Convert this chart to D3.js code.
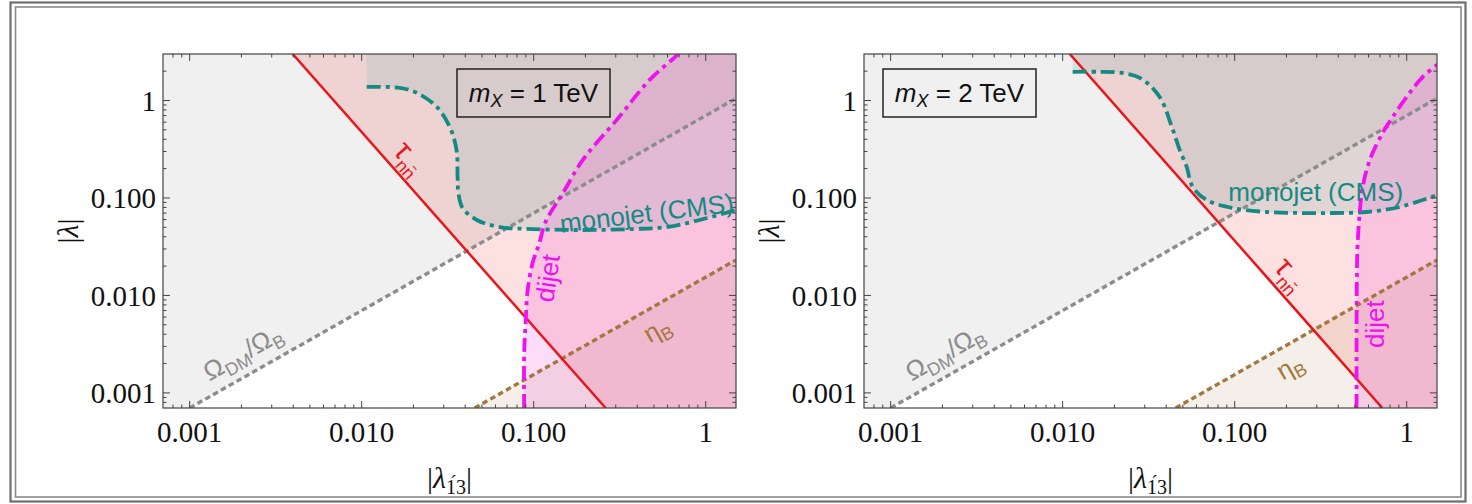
<!DOCTYPE html>
<html>
<head>
<meta charset="utf-8">
<script src="https://cdn.jsdelivr.net/npm/d3@7"></script>
<style>
body { margin: 0; background: #fff; }
</style>
</head>
<body>
<div id="chart"></div>
<script>
// axis ticks
var xTicks = [0.001, 0.01, 0.1, 1];
var xTickLabels = ["0.001", "0.010", "0.100", "1"];
var yTicks = [0.001, 0.01, 0.1, 1];
var yTickLabels = ["0.001", "0.010", "0.100", "1"];

// curves, [lambda'13, lambda]
var omegaLine = [[0.001, 0.0007], [1.5, 1.05]];
var etaLine = [[0.0454, 0.0007], [1.5, 0.0231]];
var tauLine1 = [[0.00397, 3], [0.262, 0.0007]];
var tauLine2 = [[0.011, 3], [0.722, 0.0007]];

var monojet1 = [[0.0107, 1.38], [0.0166, 1.35], [0.0209, 1.20], [0.0273, 0.86], [0.0325, 0.537],
    [0.0356, 0.311], [0.0361, 0.164], [0.0365, 0.1125], [0.0386, 0.0789], [0.0467, 0.0594],
    [0.0634, 0.0503], [0.0986, 0.048], [0.193, 0.0469], [0.377, 0.048], [0.593, 0.0503],
    [0.923, 0.0594], [1.5, 0.0753]];
var monojet2 = [[0.01143, 1.97], [0.0164, 1.97], [0.0214, 1.93], [0.0281, 1.71], [0.0366, 1.09],
    [0.0431, 0.537], [0.0479, 0.311], [0.0526, 0.208], [0.0570, 0.130], [0.0687, 0.0953],
    [0.0972, 0.0789], [0.1535, 0.0718], [0.239, 0.0701], [0.372, 0.0701], [0.585, 0.0718],
    [0.910, 0.0808], [1.5, 0.107]];

var dijet1 = [[0.088, 0.0007], [0.088, 0.0025], [0.0899, 0.0056], [0.0923, 0.0114], [0.0986, 0.0216],
    [0.108, 0.0347], [0.117, 0.0563], [0.148, 0.1125], [0.193, 0.246], [0.304, 0.633],
    [0.472, 1.63], [0.665, 2.81], [0.69, 3.0]];
var dijet2 = [[0.511, 0.0007], [0.512, 0.01], [0.517, 0.03], [0.533, 0.07], [0.555, 0.13],
    [0.61, 0.246], [0.725, 0.466], [0.83, 0.68], [1.04, 1.2], [1.24, 1.75], [1.5, 2.33]];

var masses = ["1", "2"];

var width = 573, height = 354;
var xMin = 0.0007, xMax = 1.5, yMin = 0.0007, yMax = 3;
var sans = "'Liberation Sans', Arial, sans-serif";
var serif = "'Liberation Serif', 'Times New Roman', serif";

var svg = d3.select("#chart").append("svg")
    .attr("width", 1472)
    .attr("height", 504);

// double frame round the figure
svg.append("rect").attr("x", 10.5).attr("y", 2.5).attr("width", 1455).attr("height", 499)
    .attr("fill", "none").attr("stroke", "#6e6e6e").attr("stroke-width", 2.2);
svg.append("rect").attr("x", 15.5).attr("y", 7).attr("width", 1445.5).attr("height", 490)
    .attr("fill", "none").attr("stroke", "#8a8a8a").attr("stroke-width", 1.6);

var x = d3.scaleLog().domain([xMin, xMax]).range([0, width]);
var y = d3.scaleLog().domain([yMin, yMax]).range([height, 0]);

var straight = d3.line().x(d => x(d[0])).y(d => y(d[1]));
var smooth = d3.line().x(d => x(d[0])).y(d => y(d[1])).curve(d3.curveCatmullRom.alpha(0.5));

function polyPath(pts) {
    return straight(pts) + "Z";
}

function drawPanel(left, opt) {
    var g = svg.append("g").attr("transform", "translate(" + left + ",54)");

    g.append("clipPath").attr("id", "clip" + opt.id)
        .append("rect").attr("width", width).attr("height", height);

    var regions = g.append("g").attr("clip-path", "url(#clip" + opt.id + ")");

    // Omega_DM / Omega_B region (above the line)
    regions.append("path")
        .attr("d", polyPath(omegaLine.concat([[xMax, yMax], [xMin, yMax], [xMin, yMin]])))
        .attr("fill", "#808080").attr("fill-opacity", 0.12);

    // tau_nn region (right of red line)
    regions.append("path")
        .attr("d", polyPath(opt.tau.concat([[xMax, yMin], [xMax, yMax]])))
        .attr("fill", "#f00000").attr("fill-opacity", 0.12);

    // eta_B region (below brown line)
    regions.append("path")
        .attr("d", polyPath(etaLine.concat([[xMax, yMin]])))
        .attr("fill", "#aa8250").attr("fill-opacity", 0.13);

    // monojet region
    var m = opt.mono;
    var monoD = "M" + x(m[0][0]) + "," + y(yMax) + smooth(m).replace(/^M/, "L") +
        "L" + x(xMax) + "," + y(yMax) + "Z";
    regions.append("path").attr("d", monoD)
        .attr("fill", "#a0bebe").attr("fill-opacity", 0.3);

    // dijet region
    var dj = opt.dijet;
    var last = dj[dj.length - 1];
    var dijetD = smooth(dj) + "L" + x(xMax) + "," + y(last[1]) +
        "L" + x(xMax) + "," + y(yMin) + "Z";
    regions.append("path").attr("d", dijetD)
        .attr("fill", "#f050d8").attr("fill-opacity", 0.2);

    // boundary lines
    regions.append("path").attr("d", straight(omegaLine))
        .attr("fill", "none").attr("stroke", "#8c8c8c").attr("stroke-width", 3.4)
        .attr("stroke-dasharray", "5.5,3.5");
    regions.append("path").attr("d", straight(etaLine))
        .attr("fill", "none").attr("stroke", "#a57640").attr("stroke-width", 3.4)
        .attr("stroke-dasharray", "5.5,3.5");
    regions.append("path").attr("d", straight(opt.tau))
        .attr("fill", "none").attr("stroke", "#e8161b").attr("stroke-width", 2.5);
    regions.append("path").attr("d", smooth(m))
        .attr("fill", "none").attr("stroke", "#158a82").attr("stroke-width", 3.8)
        .attr("stroke-dasharray", "14,5,4,5");
    regions.append("path").attr("d", smooth(dj))
        .attr("fill", "none").attr("stroke", "#f010f0").attr("stroke-width", 3.8)
        .attr("stroke-dasharray", "14,5,4,5");

    // frame and ticks
    g.append("rect").attr("width", width).attr("height", height)
        .attr("fill", "none").attr("stroke", "#444").attr("stroke-width", 1.2);

    var isMajor = function (v) {
        return Math.abs(Math.log10(v) - Math.round(Math.log10(v))) < 1e-6;
    };
    var ticksG = g.append("g").attr("stroke", "#444").attr("stroke-width", 1);
    x.ticks().forEach(function (v) {
        var len = isMajor(v) ? 7 : 3.5;
        var px = x(v);
        if (px < 0.5 || px > width - 0.5) return;
        ticksG.append("line").attr("x1", px).attr("x2", px).attr("y1", height).attr("y2", height - len);
        ticksG.append("line").attr("x1", px).attr("x2", px).attr("y1", 0).attr("y2", len);
    });
    y.ticks().forEach(function (v) {
        var len = isMajor(v) ? 7 : 3.5;
        var py = y(v);
        if (py < 0.5 || py > height - 0.5) return;
        ticksG.append("line").attr("x1", 0).attr("x2", len).attr("y1", py).attr("y2", py);
        ticksG.append("line").attr("x1", width).attr("x2", width - len).attr("y1", py).attr("y2", py);
    });

    xTicks.forEach(function (v, i) {
        g.append("text").attr("x", x(v)).attr("y", height + 34)
            .attr("text-anchor", "middle")
            .attr("font-family", serif).attr("font-size", 29).attr("fill", "#111")
            .text(xTickLabels[i]);
    });
    yTicks.forEach(function (v, i) {
        g.append("text").attr("x", -7).attr("y", y(v)).attr("dy", "0.35em")
            .attr("text-anchor", "end")
            .attr("font-family", serif).attr("font-size", 29).attr("fill", "#111")
            .text(yTickLabels[i]);
    });

    // axis titles
    var yt = g.append("text")
        .attr("transform", "translate(-96," + (height / 2) + ") rotate(-90)")
        .attr("text-anchor", "middle").attr("dy", "0.35em")
        .attr("font-family", serif).attr("font-size", 30).attr("fill", "#111");
    yt.append("tspan").text("|");
    yt.append("tspan").attr("font-style", "italic").text("λ");
    yt.append("tspan").text("|");

    var xt = g.append("text")
        .attr("x", width / 2).attr("y", height + 80)
        .attr("text-anchor", "middle")
        .attr("font-family", serif).attr("font-size", 30).attr("fill", "#111");
    xt.append("tspan").text("|");
    xt.append("tspan").attr("font-style", "italic").text("λ");
    // prime sits over the subscript, as a combining accent on the "1"
    xt.append("tspan").attr("dy", 6).attr("font-size", 20).text("1\u03013");
    xt.append("tspan").attr("dy", -6).text("|");

    // mass box
    var box = g.append("g").attr("transform", "translate(" + opt.boxX + ",15)");
    box.append("rect").attr("width", 153).attr("height", 48)
        .attr("fill", "none").attr("stroke", "#222").attr("stroke-width", 1.5);
    var bt = box.append("text").attr("x", 76.5).attr("y", 33)
        .attr("text-anchor", "middle").attr("font-family", sans)
        .attr("font-size", 26).attr("fill", "#111");
    bt.append("tspan").attr("font-style", "italic").text("m");
    bt.append("tspan").attr("font-style", "italic").attr("font-size", 18).attr("dy", 5).text("X");
    bt.append("tspan").attr("dy", -5).text(" = " + opt.mass + " TeV");

    // region labels
    function label(pos, angle, color, parts) {
        var t = g.append("text")
            .attr("transform", "translate(" + x(pos[0]) + "," + y(pos[1]) + ") rotate(" + angle + ")")
            .attr("text-anchor", "middle").attr("dy", "0.35em")
            .attr("font-family", sans).attr("font-size", 26).attr("fill", color);
        parts.forEach(function (p) {
            var s = t.append("tspan").text(p.t);
            if (p.sub) s.attr("font-size", 18);
            if (p.dy) s.attr("dy", p.dy);
        });
        return t;
    }
    var ang = function (line) {
        return Math.atan2(y(line[1][1]) - y(line[0][1]), x(line[1][0]) - x(line[0][0])) * 180 / Math.PI;
    };

    label(opt.omegaPos, ang(omegaLine), "#8c8c8c",
        [{t: "Ω"}, {t: "DM", sub: true, dy: 6}, {t: "/Ω", dy: -6}, {t: "B", sub: true, dy: 6}]);
    label(opt.etaPos, ang(etaLine), "#a57640",
        [{t: "η"}, {t: "B", sub: true, dy: 6}]);
    label(opt.tauPos, ang(opt.tau), "#e8161b",
        [{t: "τ"}, {t: "nn̄", sub: true, dy: 8}]).attr("font-size", 30);
    label(opt.monoPos, opt.monoAngle, "#158a82", [{t: "monojet (CMS)"}]);
    label(opt.dijetPos, opt.dijetAngle, "#f010f0", [{t: "dijet"}]);
}

drawPanel(163, {
    id: 1, mass: masses[0], tau: tauLine1, mono: monojet1, dijet: dijet1, boxX: 294,
    omegaPos: [0.00203, 0.00261], etaPos: [0.519, 0.00451], tauPos: [0.0193, 0.264],
    monoPos: [0.454, 0.070], monoAngle: -7, dijetPos: [0.1205, 0.01506], dijetAngle: -82
});
drawPanel(864, {
    id: 2, mass: masses[1], tau: tauLine2, mono: monojet2, dijet: dijet2, boxX: 19,
    omegaPos: [0.00206, 0.00261], etaPos: [0.209, 0.00188], tauPos: [0.214, 0.0169],
    monoPos: [0.296, 0.115], monoAngle: 0, dijetPos: [0.652, 0.00507], dijetAngle: -90
});
</script>
</body>
</html>
